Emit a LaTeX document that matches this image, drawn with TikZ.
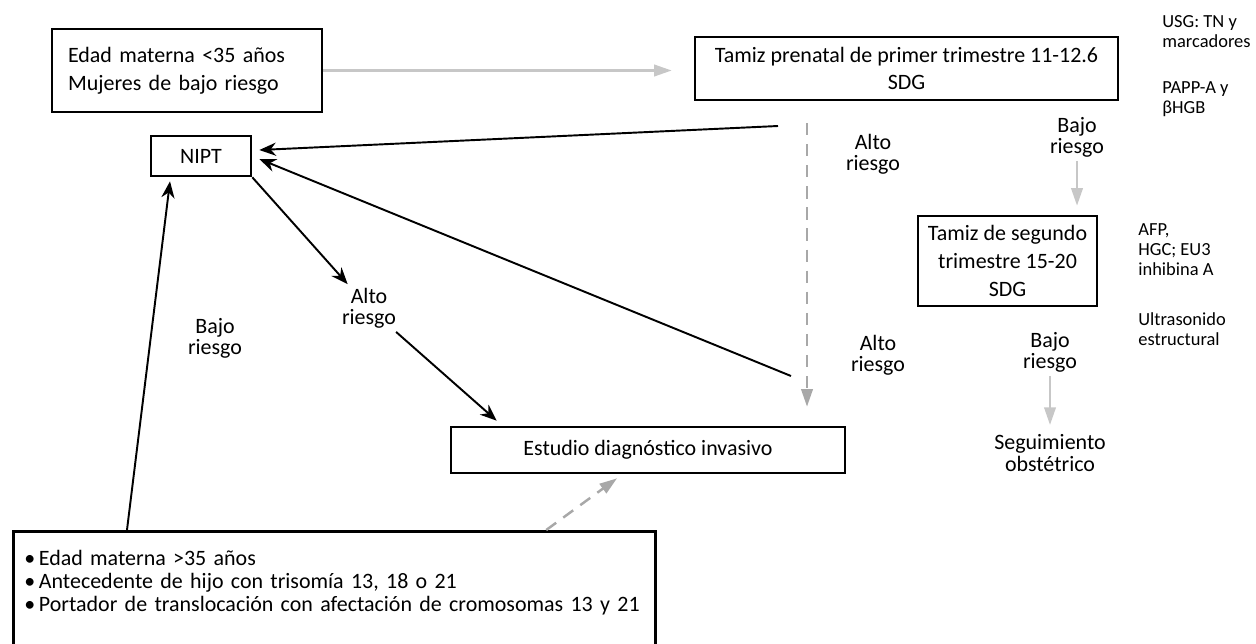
\documentclass[tikz,border=0pt]{standalone}
\usepackage{fontspec}
\setmainfont{Carlito}
\usepackage{tikz}
\usetikzlibrary{arrows.meta,positioning}
\definecolor{lightgr}{gray}{0.78}
\definecolor{dashgr}{gray}{0.66}

\begin{document}
\begin{tikzpicture}[
  x=0.02cm, y=-0.02cm,
  box/.style={rectangle, draw, line width=1.5pt, inner sep=0pt, align=center,
              font=\fontsize{12.5}{15.8}\selectfont},
  lbl/.style={align=center, inner sep=2pt, font=\fontsize{12.5}{12}\selectfont},
  note/.style={align=left, anchor=north west, inner sep=0pt,
               font=\fontsize{10.5}{11.6}\selectfont},
  arr/.style={-{Stealth[length=9.5pt,width=7.5pt]}, line width=1.1pt},
  garr/.style={-{Triangle[length=10pt,width=6.5pt]}, line width=1.4pt, lightgr},
  gdash/.style={garr, dashgr, dash pattern=on 7pt off 5pt}
]
  \useasboundingbox (0,0) rectangle (1256,643);
  \node[box, align=left, text width=4.76cm, inner xsep=0.32cm,
        minimum height=1.66cm] (bajo) at (187,70.5)
    {Edad materna <35 años\\Mujeres de bajo riesgo};
  \node[box, minimum width=8.46cm, minimum height=1.26cm] (tamiz1) at (906.5,68.5)
    {Tamiz prenatal de primer trimestre 11-12.6\\SDG};
  \node[box, minimum width=3.58cm, minimum height=1.8cm] (tamiz2) at (1007.5,261)
    {Tamiz de segundo\\trimestre 15-20\\SDG};
  \node[box, minimum width=2cm, minimum height=0.8cm] (nipt) at (201,156) {NIPT};
  \node[box, minimum width=7.88cm, minimum height=0.92cm] (estudio) at (648,450)
    {Estudio diagnóstico invasivo};
  \node[box, anchor=north west, align=left, text width=12.4cm, inner xsep=0.22cm,
        inner ysep=0.38cm, font=\fontsize{12.5}{13}\selectfont] (alto) at (12,530)
    {\textbullet\,Edad materna >35 años\\
     \textbullet\,Antecedente de hijo con trisomía 13, 18 o 21\\
     \textbullet\,Portador de translocación con afectación de cromosomas 13 y 21\\
     \mbox{}};

  \node[lbl] (altoT) at (873,154) {Alto\\riesgo};
  \node[lbl] (altoD) at (878,355) {Alto\\riesgo};
  \node[lbl] (altoN) at (369,308) {Alto\\riesgo};
  \node[lbl] (bajoN) at (215,338) {Bajo\\riesgo};
  \node[lbl] (bajoT) at (1077,137) {Bajo\\riesgo};
  \node[lbl] (bajoS) at (1050,352) {Bajo\\riesgo};
  \node[lbl] (segui) at (1050,453) {Seguimiento\\obstétrico};

  \node[note] (usg) at (1162,15) {USG: TN y\\marcadores};
  \node[note] (papp) at (1162,81) {PAPP-A y\\βHGB};
  \node[note] (afp) at (1138,223) {AFP,\\HGC; EU3\\inhibina A};
  \node[note] (ultra) at (1138,312) {Ultrasonido\\estructural};

  \coordinate (hi1) at (778,126);
  \coordinate (hi2) at (791,376);
  \coordinate (dv) at (807,123);

  \draw[garr, shorten >=0.44cm] (bajo) -- (bajo -| tamiz1.west);
  \draw[arr] (hi1) -- ([xshift=0.14cm,yshift=0.12cm]nipt.east);
  \draw[arr] (hi2) -- ([xshift=0.14cm,yshift=-0.06cm]nipt.east);
  \draw[gdash, shorten >=0.38cm] (dv) -- (dv |- estudio.north);
  \draw[arr] ([xshift=2.3cm]alto.north west) -- ([xshift=-0.62cm,yshift=-0.08cm]nipt.south);
  \draw[arr] (nipt.south east) -- (altoN);
  \draw[arr] (altoN) -- ([xshift=0.94cm,yshift=0.1cm]estudio.north west);
  \draw[gdash] ([xshift=4.24cm]alto.north) -- ([xshift=-0.62cm,yshift=-0.08cm]estudio.south);
  \draw[garr, shorten >=0.18cm] (bajoT) -- (bajoT |- tamiz2.north);
  \draw[garr, shorten >=0.12cm] (bajoS) -- (segui);
\end{tikzpicture}
\end{document}
